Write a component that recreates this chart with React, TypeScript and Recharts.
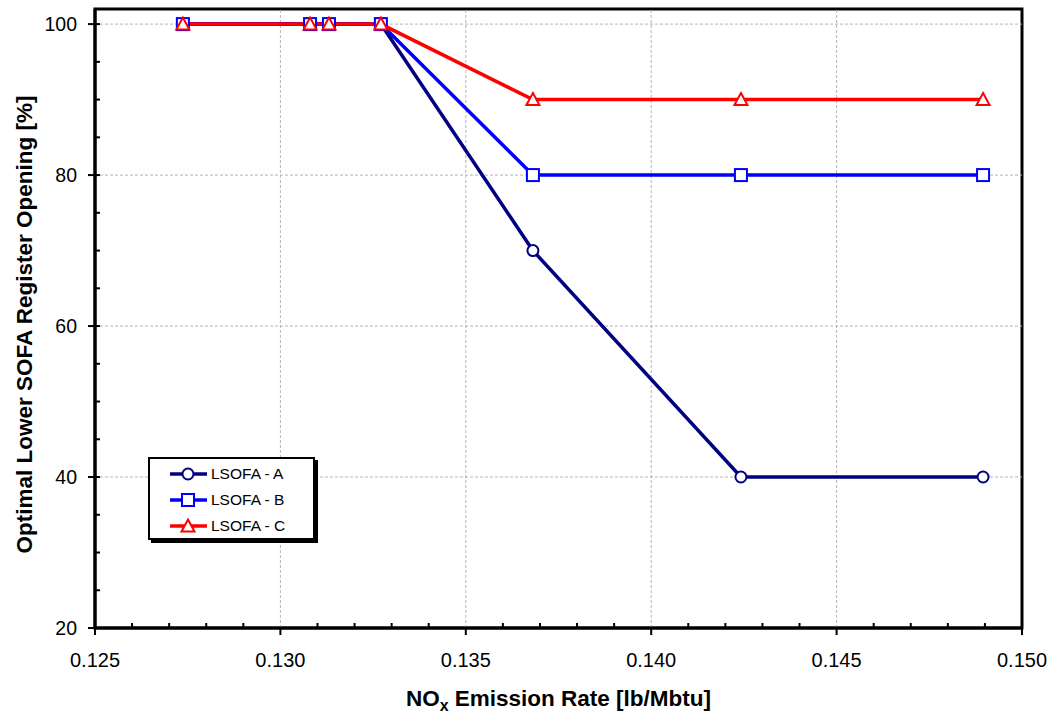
import React from "react";
import {
  LineChart,
  Line,
  XAxis,
  YAxis,
  ReferenceLine,
  ReferenceArea,
  Legend,
} from "recharts";

const noxRate = [0.12737, 0.1308, 0.13131, 0.13271, 0.13681, 0.14242, 0.14895];
const lsofaA = [100, 100, 100, 100, 70, 40, 40];
const lsofaB = [100, 100, 100, 100, 80, 80, 80];
const lsofaC = [100, 100, 100, 100, 90, 90, 90];

const xMajorTicks = [0.125, 0.13, 0.135, 0.14, 0.145, 0.15];
const xAllTicks = [
  0.125, 0.126, 0.127, 0.128, 0.129, 0.13, 0.131, 0.132, 0.133, 0.134, 0.135,
  0.136, 0.137, 0.138, 0.139, 0.14, 0.141, 0.142, 0.143, 0.144, 0.145, 0.146,
  0.147, 0.148, 0.149, 0.15,
];
const yMajorTicks = [20, 40, 60, 80, 100];
const yAllTicks = [20, 25, 30, 35, 40, 45, 50, 55, 60, 65, 70, 75, 80, 85, 90, 95, 100];
const xGridValues = [0.13, 0.135, 0.14, 0.145];
const yGridValues = [40, 60, 80, 100];

const seriesNames = ["LSOFA - A", "LSOFA - B", "LSOFA - C"];
const seriesColors = ["#000080", "#0000FF", "#FF0000"];

const data = noxRate.map((x, i) => ({
  x,
  a: lsofaA[i],
  b: lsofaB[i],
  c: lsofaC[i],
}));

const FONT = "'Liberation Sans', Arial, sans-serif";

const isMajor = (v: number, list: number[]) => list.some((m) => Math.abs(m - v) < 1e-7);

const XTick = (props: any) => {
  const { x, y, payload } = props;
  const v = payload.value as number;
  const major = isMajor(v, xMajorTicks);
  return (
    <g>
      <line x1={x} x2={x} y1={y} y2={major ? y + 7 : y - 5} stroke="#000" strokeWidth={2} />
      {major && (
        <text x={x} y={y + 39} textAnchor="middle" fontSize={20} fontFamily={FONT} fill="#000">
          {v.toFixed(3)}
        </text>
      )}
    </g>
  );
};

const YTick = (props: any) => {
  const { x, y, payload } = props;
  const v = payload.value as number;
  const major = isMajor(v, yMajorTicks);
  return (
    <g>
      <line y1={y} y2={y} x1={major ? x - 7 : x} x2={x + 5} stroke="#000" strokeWidth={2} />
      {major && (
        <text x={x - 18} y={y + 7} textAnchor="end" fontSize={19.5} fontFamily={FONT} fill="#000">
          {v}
        </text>
      )}
    </g>
  );
};

const SquareDot = (props: any) => {
  const { cx, cy } = props;
  if (cx == null || cy == null) return null;
  return <rect x={cx - 6} y={cy - 6} width={12} height={12} fill="#fff" stroke="#0000FF" strokeWidth={2} />;
};

const TriangleDot = (props: any) => {
  const { cx, cy } = props;
  if (cx == null || cy == null) return null;
  return (
    <polygon
      points={`${cx},${cy - 6.5} ${cx + 6.5},${cy + 5.5} ${cx - 6.5},${cy + 5.5}`}
      fill="#fff"
      stroke="#FF0000"
      strokeWidth={2}
    />
  );
};

const markerFor = (i: number, cx: number, cy: number) => {
  if (i === 0) return <circle cx={cx} cy={cy} r={5.5} fill="#fff" stroke="#000080" strokeWidth={2} />;
  if (i === 1) return <rect x={cx - 6} y={cy - 6} width={12} height={12} fill="#fff" stroke="#0000FF" strokeWidth={2} />;
  return (
    <polygon
      points={`${cx},${cy - 6.5} ${cx + 6.5},${cy + 5.5} ${cx - 6.5},${cy + 5.5}`}
      fill="#fff"
      stroke="#FF0000"
      strokeWidth={2}
    />
  );
};

const LegendBox = () => (
  <div
    style={{
      width: 163,
      height: 79,
      border: "2px solid #000",
      background: "#fff",
      boxShadow: "3px 3px 0 #000",
      fontFamily: FONT,
      fontSize: 15.5,
      color: "#000",
      boxSizing: "content-box",
    }}
  >
    {seriesNames.map((name, i) => (
      <div key={name} style={{ display: "flex", alignItems: "center", height: 26, marginTop: i === 0 ? 2 : 0 }}>
        <svg width={60} height={20} style={{ display: "block" }}>
          <line x1={20} x2={57} y1={10} y2={10} stroke={seriesColors[i]} strokeWidth={3.5} />
          {markerFor(i, 38, 10)}
        </svg>
        <span style={{ marginLeft: 1 }}>{name}</span>
      </div>
    ))}
  </div>
);

export default function App() {
  return (
    <div style={{ position: "absolute", left: 0, top: 0, width: 1052, height: 713, background: "#fff" }}>
      <LineChart width={1052} height={713} data={data} margin={{ top: 9, right: 30, bottom: 0, left: 0 }}>
        <XAxis
          dataKey="x"
          type="number"
          domain={[0.125, 0.15]}
          ticks={xAllTicks}
          interval={0}
          height={85}
          tickSize={0}
          tickMargin={0}
          tickLine={false}
          tick={<XTick />}
          axisLine={{ stroke: "#000", strokeWidth: 3 }}
          allowDataOverflow
          label={{
            content: (p: any) => {
              const vb = p.viewBox || {};
              const cx = (vb.x ?? 95) + (vb.width ?? 927) / 2;
              const y = (vb.y ?? 628) + 78;
              return (
                <text x={cx} y={y} textAnchor="middle" fontSize={22.5} fontWeight="bold" fontFamily={FONT} fill="#000">
                  NO<tspan fontSize={16} dy={5}>x</tspan>
                  <tspan dy={-5}> Emission Rate [lb/Mbtu]</tspan>
                </text>
              );
            },
          }}
        />
        <YAxis
          type="number"
          domain={[20, 102]}
          ticks={yAllTicks}
          interval={0}
          width={95}
          tickSize={0}
          tickMargin={0}
          tickLine={false}
          tick={<YTick />}
          axisLine={{ stroke: "#000", strokeWidth: 3 }}
          allowDataOverflow
          label={{
            content: (p: any) => {
              const vb = p.viewBox || {};
              const cy = (vb.y ?? 9) + (vb.height ?? 619) / 2 + 6;
              return (
                <text
                  x={32}
                  y={cy}
                  transform={`rotate(-90, 32, ${cy})`}
                  textAnchor="middle"
                  fontSize={22.5}
                  fontWeight="bold"
                  fontFamily={FONT}
                  fill="#000"
                >
                  Optimal Lower SOFA Register Opening [%]
                </text>
              );
            },
          }}
        />
        {xGridValues.map((v) => (
          <ReferenceLine key={"gx" + v} x={v} stroke="#b4b4b4" strokeDasharray="3 2" strokeWidth={1} />
        ))}
        {yGridValues.map((v) => (
          <ReferenceLine key={"gy" + v} y={v} stroke="#b4b4b4" strokeDasharray="3 2" strokeWidth={1} />
        ))}
        <ReferenceArea
          x1={0.125}
          x2={0.15}
          y1={20}
          y2={102}
          fill="none"
          fillOpacity={0}
          stroke="#000"
          strokeWidth={3}
        />
        <Line
          dataKey="a"
          name={seriesNames[0]}
          stroke={seriesColors[0]}
          strokeWidth={3.5}
          isAnimationActive={false}
          dot={{ r: 5.5, fill: "#fff", stroke: seriesColors[0], strokeWidth: 2 }}
        />
        <Line
          dataKey="b"
          name={seriesNames[1]}
          stroke={seriesColors[1]}
          strokeWidth={3.5}
          isAnimationActive={false}
          dot={<SquareDot />}
        />
        <Line
          dataKey="c"
          name={seriesNames[2]}
          stroke={seriesColors[2]}
          strokeWidth={3.5}
          isAnimationActive={false}
          dot={<TriangleDot />}
        />
        <Legend
          layout="vertical"
          verticalAlign="middle"
          align="center"
          content={() => <LegendBox />}
          wrapperStyle={{ left: 148, top: 457, width: 170, height: 86 }}
        />
      </LineChart>
    </div>
  );
}
